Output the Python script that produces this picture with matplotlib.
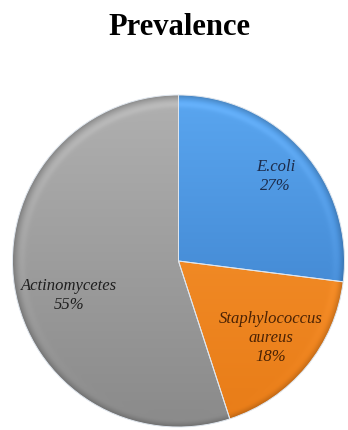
import numpy as np
import matplotlib
matplotlib.use("Agg")
import matplotlib.pyplot as plt
from matplotlib.colors import to_rgb

# Data
categories = ["E.coli", "Staphylococcus\naureus", "Actinomycetes"]
percent = [27, 18, 55]
pct_labels = ["27%", "18%", "55%"]

# Styling
top_colors = ["#5aa6f0", "#f99632", "#b0b0b0"]
bottom_colors = ["#3678c2", "#e87c17", "#8a8a8a"]
text_colors = ["#1c2b4a", "#4a2204", "#1e1e1e"]
label_dist = [0.78, 0.72, 0.69]
label_nudge = [0.0, 0.0, 8.0]   # degrees

W, H, DPI = 348, 431, 100
cx, cy, R = 178.5, H - 262, 166

fig = plt.figure(figsize=(W / DPI, H / DPI), dpi=DPI)
ax = fig.add_axes([0, 0, 1, 1])

wedges, _ = ax.pie(percent, startangle=90, counterclock=False,
                   center=(cx, cy), radius=R,
                   wedgeprops=dict(edgecolor="#dfe6ee", linewidth=0.7))
ax.set_xlim(0, W)
ax.set_ylim(0, H)
ax.set_aspect("equal")
ax.axis("off")

# Shaded fill for each wedge: vertical gradient plus a bevelled rim
x0, x1, y0, y1 = cx - R, cx + R, cy - R, cy + R
n = 500
xs = np.linspace(x0, x1, n)
ys = np.linspace(y1, y0, n)
X, Y = np.meshgrid(xs, ys)
rr = np.hypot(X - cx, Y - cy) / R
t = (y1 - Y) / (2 * R)            # 0 at top, 1 at bottom
rim = np.clip((rr - 0.96) / 0.04, 0, 1)
glow = np.exp(-((rr - 0.945) / 0.02) ** 2)

for w, ctop, cbot in zip(wedges, top_colors, bottom_colors):
    a = np.array(to_rgb(ctop))
    b = np.array(to_rgb(cbot))
    img = a[None, None, :] * (1 - t[..., None]) + b[None, None, :] * t[..., None]
    img = img * (1 - 0.2 * rim[..., None] ** 1.5)
    img = img + 0.05 * glow[..., None] * (1 - t[..., None])
    img = np.clip(img, 0, 1)
    w.set_facecolor("none")
    im = ax.imshow(img, extent=(x0, x1, y0, y1), origin="upper",
                   interpolation="bilinear", zorder=0.5)
    im.set_clip_path(w)
    w.set_zorder(1)

# Labels placed along each wedge's bisector
for w, cat, pct, col, d, nd in zip(wedges, categories, pct_labels,
                                   text_colors, label_dist, label_nudge):
    ang = np.deg2rad((w.theta1 + w.theta2) / 2 + nd)
    lx = cx + d * R * np.cos(ang)
    ly = cy + d * R * np.sin(ang)
    ax.text(lx, ly, f"{cat}\n{pct}", ha="center", va="center",
            family="Liberation Serif", style="italic", fontsize=12,
            color=col, linespacing=1.25, zorder=3)

fig.text(0.517, 1 - 28 / H, "Prevalence", ha="center", va="center",
         family="Liberation Serif", weight="bold", fontsize=22, color="black")

fig.savefig("out.png", dpi=DPI)
